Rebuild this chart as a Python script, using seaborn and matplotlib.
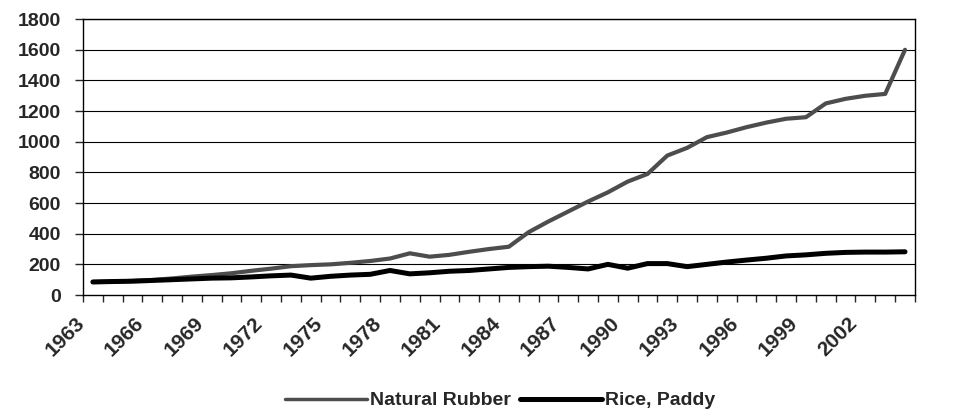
import matplotlib
matplotlib.use("Agg")
import matplotlib.pyplot as plt
import matplotlib.transforms as mtransforms
from matplotlib.lines import Line2D
import seaborn as sns
import pandas as pd
import numpy as np

years = list(range(1963, 2005))

rubber = [85, 88, 92, 98, 108, 120, 130, 142, 158, 172, 188, 195, 200, 210, 222, 238,
          272, 250, 262, 282, 300, 315, 410, 480, 545, 610, 670, 740, 790, 910,
          960, 1030, 1060, 1095, 1125, 1150, 1160, 1250, 1280, 1300, 1312, 1600]

rice = [85, 88, 90, 95, 100, 105, 110, 112, 118, 125, 130, 110, 122, 130, 135, 160,
        138, 145, 155, 160, 170, 180, 185, 188, 180, 170, 200, 175, 205, 205,
        185, 200, 215, 228, 240, 255, 262, 272, 278, 280, 280, 282]

series_names = ["Natural Rubber", "Rice, Paddy"]
year_labels = list(range(1963, 2003, 3))
y_ticks = list(range(0, 1801, 200))


def main():
    df = pd.DataFrame({
        "year": years * 2,
        "value": rubber + rice,
        "series": [series_names[0]] * len(years) + [series_names[1]] * len(years),
    })

    sns.set_style("white")
    plt.rcParams["font.family"] = ["Liberation Sans", "DejaVu Sans"]

    fig = plt.figure(figsize=(9.73, 4.13), dpi=100)
    ax = fig.add_axes([0.0853, 0.2857, 0.855, 0.668])

    # horizontal gridlines first so the lines sit on top
    for v in y_ticks[1:]:
        ax.axhline(v, color="black", lw=0.8, zorder=1)

    colors = {series_names[0]: "#4d4d4d", series_names[1]: "black"}
    sns.lineplot(data=df, x="year", y="value", hue="series", palette=colors,
                 ax=ax, legend=False, zorder=3)
    ax.lines[-2].set_linewidth(3.0)
    ax.lines[-1].set_linewidth(3.6)

    ax.set_xlim(years[0] - 0.5, years[-1] + 0.5)
    ax.set_ylim(0, 1800)
    ax.set_yticks(y_ticks)
    ax.set_yticklabels([str(v) for v in y_ticks], fontsize=14, fontweight="bold")

    ax.set_xticks(year_labels)
    ax.set_xticklabels([str(y) for y in year_labels], rotation=45, ha="right",
                       rotation_mode="anchor", fontsize=15, fontweight="bold")

    ax.set_xticks(np.arange(years[0] - 0.5, years[-1] + 1.0, 1.0), minor=True)
    ax.tick_params(axis="x", which="major", length=0, pad=13)
    ax.tick_params(axis="x", which="minor", length=5, width=1, direction="out")
    ax.tick_params(axis="y", length=6, width=1, direction="out", pad=10)
    ax.xaxis.set_ticks_position("bottom")
    ax.yaxis.set_ticks_position("left")

    # nudge the slanted year labels left, like the original (after tick_params,
    # which would reset the transform)
    shift = mtransforms.ScaledTranslation(-18 / 100, 0, fig.dpi_scale_trans)
    for tick in ax.xaxis.get_major_ticks():
        tick.label1.set_transform(tick.label1.get_transform() + shift)

    for s in ax.spines.values():
        s.set_color("black")
        s.set_linewidth(1.0)

    ax.set_xlabel("")
    ax.set_ylabel("")

    # legend below the plot
    handles = [Line2D([], [], color=colors[series_names[0]], lw=2.5),
               Line2D([], [], color=colors[series_names[1]], lw=3.6)]
    fig.legend(handles, series_names, loc="center", bbox_to_anchor=(0.514, 0.03),
               ncol=2, frameon=False, handlelength=4.2, columnspacing=0.5,
               handletextpad=0.15, prop={"size": 14, "weight": "bold"})

    fig.savefig("out.png", dpi=100)
    plt.close(fig)


if __name__ == "__main__":
    main()
